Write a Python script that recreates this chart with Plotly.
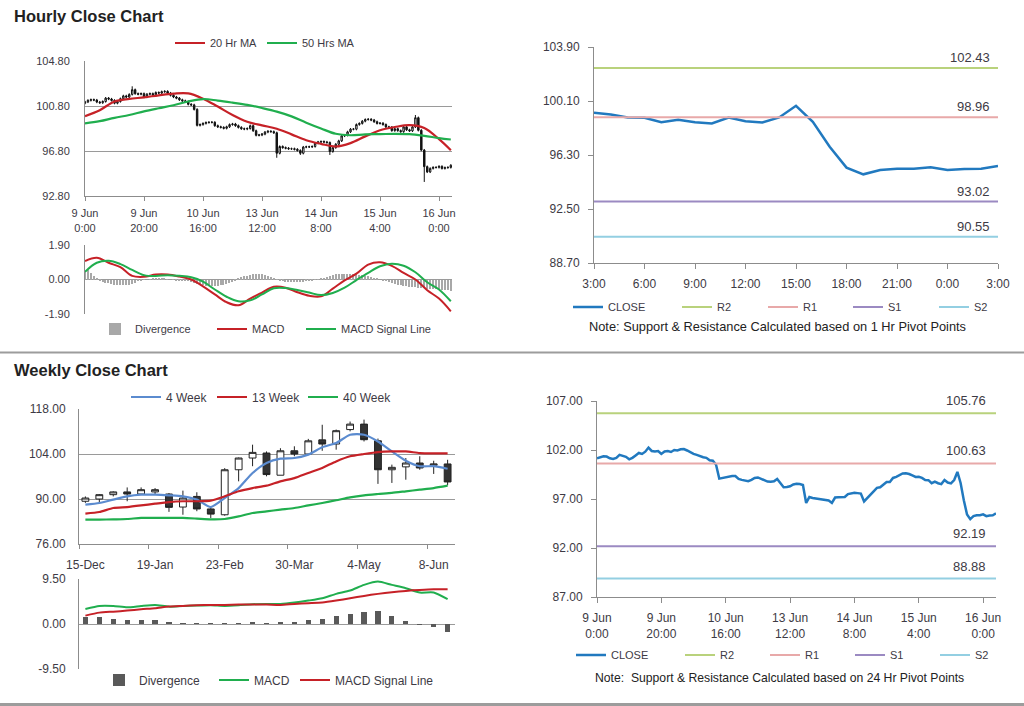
import plotly.graph_objects as go
import pandas as pd

# ---------------- DATA ----------------
# Hourly candles (125 hours, 9 Jun 0:00 -> 16 Jun ~4:00)
hourly_open = [
    101.05, 101.16, 101.30, 101.36, 101.33, 101.15, 101.09, 101.20, 101.50, 101.42,
    101.30, 101.05, 101.20, 101.45, 101.70, 101.60, 101.83, 102.25, 101.90, 101.85,
    101.90, 101.60, 101.85, 101.90, 101.80, 102.00, 101.95, 102.07, 102.10, 101.95,
    101.75, 101.60, 101.50, 101.35, 101.26, 101.20, 100.95, 100.90, 100.50, 99.08,
    99.15, 99.25, 99.33, 99.35, 99.35, 99.05, 98.95, 98.90, 98.82, 98.95,
    99.15, 99.20, 99.05, 98.90, 98.78, 98.75, 98.80, 99.05, 98.60, 98.20,
    98.22, 98.30, 98.48, 98.55, 98.52, 98.42, 96.60, 97.20, 97.10, 97.05,
    97.00, 97.00, 96.95, 96.85, 96.60, 97.15, 97.17, 97.17, 97.20, 97.50,
    97.60, 97.64, 97.60, 97.55, 96.75, 97.10, 97.40, 97.70, 98.14, 98.20,
    98.50, 98.74, 98.74, 99.15, 99.25, 99.45, 99.60, 99.62, 99.55, 99.40,
    99.25, 99.27, 99.15, 98.94, 98.92, 98.61, 98.78, 98.61, 98.52, 98.94,
    98.68, 98.59, 98.94, 99.76, 98.64, 96.88, 95.41, 94.94, 95.25, 95.34,
    95.34, 95.43, 95.25, 95.32, 95.34]
hourly_high = [
    101.26, 101.40, 101.46, 101.46, 101.43, 101.25, 101.30, 101.60, 101.60, 101.52,
    101.40, 101.30, 101.55, 101.80, 101.80, 101.93, 102.55, 102.35, 102.00, 102.00,
    102.00, 101.95, 102.00, 102.00, 102.10, 102.10, 102.17, 102.20, 102.20, 102.05,
    101.85, 101.70, 101.60, 101.45, 101.36, 101.30, 101.05, 101.00, 100.60, 99.25,
    99.35, 99.43, 99.45, 99.45, 99.45, 99.15, 99.05, 99.00, 99.05, 99.25,
    99.30, 99.30, 99.15, 99.00, 98.88, 98.90, 99.15, 99.15, 98.70, 98.32,
    98.40, 98.58, 98.65, 98.65, 98.62, 98.52, 97.30, 97.30, 97.20, 97.15,
    97.10, 97.10, 97.05, 96.95, 97.25, 97.27, 97.27, 97.30, 97.60, 97.70,
    97.74, 97.74, 97.70, 97.65, 97.20, 97.50, 97.80, 98.24, 98.30, 98.60,
    98.84, 98.84, 99.25, 99.35, 99.55, 99.70, 99.72, 99.72, 99.65, 99.50,
    99.37, 99.37, 99.25, 99.04, 99.02, 98.88, 98.88, 98.71, 99.04, 99.04,
    98.78, 99.04, 100.00, 99.86, 98.74, 96.98, 95.51, 95.35, 95.44, 95.44,
    95.53, 95.53, 95.42, 95.44, 95.63]
hourly_low = [
    100.95, 101.06, 101.20, 101.23, 101.05, 100.99, 100.99, 101.10, 101.32, 101.20,
    100.95, 100.95, 101.10, 101.35, 101.50, 101.50, 101.73, 101.80, 101.75, 101.75,
    101.50, 101.50, 101.75, 101.70, 101.70, 101.85, 101.85, 101.97, 101.85, 101.65,
    101.50, 101.40, 101.25, 101.16, 101.10, 100.85, 100.80, 100.40, 98.98, 98.98,
    99.05, 99.15, 99.23, 99.25, 98.95, 98.85, 98.80, 98.72, 98.72, 98.85,
    99.05, 98.95, 98.80, 98.68, 98.65, 98.65, 98.70, 98.50, 98.10, 98.10,
    98.12, 98.20, 98.38, 98.42, 98.32, 96.20, 96.50, 97.00, 96.95, 96.90,
    96.90, 96.85, 96.75, 96.45, 96.50, 97.05, 97.07, 97.07, 97.10, 97.40,
    97.50, 97.50, 97.45, 96.45, 96.65, 97.00, 97.30, 97.60, 98.04, 98.10,
    98.40, 98.64, 98.64, 99.05, 99.15, 99.35, 99.50, 99.45, 99.30, 99.15,
    99.15, 99.05, 98.84, 98.82, 98.51, 98.51, 98.51, 98.42, 98.42, 98.58,
    98.49, 98.49, 98.84, 98.54, 96.78, 94.05, 94.84, 94.84, 95.15, 95.24,
    95.24, 95.15, 95.15, 95.22, 95.24]
hourly_close = [
    101.16, 101.30, 101.36, 101.33, 101.15, 101.09, 101.20, 101.50, 101.42, 101.30,
    101.05, 101.20, 101.45, 101.70, 101.60, 101.83, 102.25, 101.90, 101.85, 101.90,
    101.60, 101.85, 101.90, 101.80, 102.00, 101.95, 102.07, 102.10, 101.95, 101.75,
    101.60, 101.50, 101.35, 101.26, 101.20, 100.95, 100.90, 100.50, 99.08, 99.15,
    99.25, 99.33, 99.35, 99.35, 99.05, 98.95, 98.90, 98.82, 98.95, 99.15,
    99.20, 99.05, 98.90, 98.78, 98.75, 98.80, 99.05, 98.60, 98.20, 98.22,
    98.30, 98.48, 98.55, 98.52, 98.42, 96.60, 97.20, 97.10, 97.05, 97.00,
    97.00, 96.95, 96.85, 96.60, 97.15, 97.17, 97.17, 97.20, 97.50, 97.60,
    97.64, 97.60, 97.55, 96.75, 97.10, 97.40, 97.70, 98.14, 98.20, 98.50,
    98.74, 98.74, 99.15, 99.25, 99.45, 99.60, 99.62, 99.55, 99.40, 99.25,
    99.27, 99.15, 98.94, 98.92, 98.61, 98.78, 98.61, 98.52, 98.94, 98.68,
    98.59, 98.94, 99.76, 98.64, 96.88, 95.41, 94.94, 95.25, 95.34, 95.34,
    95.43, 95.25, 95.32, 95.34, 95.53]
hourly_tick_idx = [0, 20, 40, 60, 80, 100, 120]
hourly_tick_labels = ["9 Jun<br>0:00", "9 Jun<br>20:00", "10 Jun<br>16:00", "13 Jun<br>12:00",
                      "14 Jun<br>8:00", "15 Jun<br>4:00", "16 Jun<br>0:00"]

# Moving averages (sampled every 5 hours)
ma_idx = [0, 5, 10, 15, 20, 25, 30, 35, 40, 45, 50, 55, 60, 65, 70, 75, 80, 85, 90, 95,
          100, 105, 110, 115, 120, 124]
ma20 = [99.9, 100.43, 101.2, 101.43, 101.57, 101.75, 101.9, 101.92, 101.45, 100.75, 100.0, 99.4,
        99.08, 98.78, 98.28, 97.76, 97.44, 97.2, 97.5, 98.1, 98.65, 98.93, 99.1, 98.85, 97.85, 96.87]
ma50 = [99.25, 99.45, 99.75, 100.0, 100.32, 100.6, 100.87, 101.2, 101.42, 101.28, 101.1, 100.9,
        100.62, 100.3, 99.88, 99.32, 98.8, 98.33, 98.2, 98.28, 98.3, 98.33, 98.3, 98.15, 97.95, 97.82]

# Hourly MACD (sampled every 4 hours) and divergence (hourly)
macd_idx = [0, 4, 8, 12, 16, 20, 24, 28, 32, 36, 40, 44, 48, 52, 56, 60, 64, 68, 72, 76, 80,
            84, 88, 92, 96, 100, 104, 108, 112, 116, 120, 124]
h_macd = [1.02, 1.2, 0.92, 0.68, 0.2, 0.15, 0.27, 0.27, 0.16, 0.0, -0.38, -0.82, -1.25, -1.42,
          -1.05, -0.72, -0.4, -0.45, -0.7, -0.9, -0.93, -0.5, -0.05, 0.32, 0.82, 0.95, 0.75,
          0.36, 0.0, -0.59, -1.05, -1.75]
h_signal = [0.42, 0.92, 1.03, 0.85, 0.53, 0.24, 0.19, 0.24, 0.2, 0.12, -0.12, -0.55, -0.95, -1.2,
            -1.15, -0.82, -0.48, -0.47, -0.58, -0.72, -0.86, -0.74, -0.45, -0.03, 0.37, 0.73,
            0.87, 0.76, 0.4, -0.15, -0.55, -1.2]
h_div = [
    0.45, 0.5, 0.35, 0.2, 0.1, -0.05, -0.12, -0.18, -0.22, -0.25,
    -0.28, -0.3, -0.3, -0.3, -0.3, -0.28, -0.25, -0.18, -0.1, -0.05,
    -0.02, 0.0, 0.02, 0.03, 0.04, 0.04, 0.04, 0.03, 0.02, 0.0,
    -0.02, -0.03, -0.04, -0.06, -0.08, -0.1, -0.15, -0.2, -0.25, -0.3,
    -0.33, -0.36, -0.38, -0.38, -0.37, -0.35, -0.33, -0.3, -0.25, -0.2,
    -0.12, -0.05, 0.05, 0.12, 0.18, 0.22, 0.26, 0.28, 0.3, 0.3,
    0.28, 0.25, 0.2, 0.12, 0.05, -0.02, -0.06, -0.1, -0.12, -0.14,
    -0.15, -0.15, -0.15, -0.14, -0.12, -0.1, -0.08, -0.05, -0.02, 0.02,
    0.06, 0.1, 0.15, 0.2, 0.24, 0.28, 0.3, 0.32, 0.33, 0.33,
    0.32, 0.3, 0.28, 0.26, 0.24, 0.22, 0.18, 0.14, 0.1, 0.05,
    0.0, -0.05, -0.1, -0.15, -0.2, -0.24, -0.28, -0.32, -0.35, -0.38,
    -0.4, -0.42, -0.44, -0.45, -0.46, -0.48, -0.5, -0.52, -0.53, -0.55,
    -0.56, -0.57, -0.58, -0.6, -0.62]

# 1 Hr pivot (last 25 hours of hourly close)
last24_start = 100
last24_tick_labels = ["3:00", "6:00", "9:00", "12:00", "15:00", "18:00", "21:00", "0:00", "3:00"]
hr_pivots = {"R2": 102.43, "R1": 98.96, "S1": 93.02, "S2": 90.55}
hr_yticks = [88.70, 92.50, 96.30, 100.10, 103.90]

# 24 Hr pivot
day_pivots = {"R2": 105.76, "R1": 100.63, "S1": 92.19, "S2": 88.88}
day_yticks = [87.0, 92.0, 97.0, 102.0, 107.0]

# Weekly candles (27 weeks, week starting Mondays)
w_open = [89.3, 90.0, 91.35, 92.2, 91.55, 92.2, 91.55, 87.5, 90.8, 86.9, 85.1, 99.1, 102.75, 104.3,
          97.4, 105.0, 104.0, 108.4, 107.1, 111.6, 113.3, 108.1, 99.1, 100.0, 101.2, 100.5, 100.9]
w_high = [90.8, 91.55, 92.4, 93.6, 93.6, 93.4, 91.85, 92.6, 92.1, 87.2, 99.6, 102.9, 106.9, 104.8,
          105.8, 106.4, 108.7, 113.1, 111.6, 114.1, 114.7, 108.8, 100.7, 102.75, 103.3, 101.9, 102.2]
w_low = [88.8, 88.55, 90.8, 89.3, 91.3, 91.35, 86.0, 85.1, 86.2, 84.1, 84.8, 95.5, 100.2, 97.05,
         97.4, 103.3, 103.8, 105.0, 105.35, 111.05, 107.9, 94.7, 95.0, 96.0, 99.1, 97.8, 94.25]
w_close = [90.3, 91.35, 92.2, 91.55, 92.9, 92.9, 87.4, 90.3, 86.9, 85.3, 99.1, 102.75, 104.5, 97.6,
           105.0, 104.0, 108.1, 107.1, 111.25, 113.3, 108.45, 99.1, 99.85, 101.2, 99.65, 100.9, 95.3]
ma4w = [88.24, 88.76, 89.8, 90.83, 91.35, 91.35, 91.14, 90.83, 89.8, 87.5, 90.3, 93.4, 98.1, 101.2,
        102.55, 102.75, 103.8, 106.1, 107.4, 110.0, 110.0, 107.9, 104.8, 101.9, 100.2, 100.2, 99.4]
ma13w = [85.45, 85.95, 87.2, 87.5, 88.0, 88.55, 89.05, 89.3, 89.3, 89.5, 90.83, 92.4, 93.4, 94.15,
         95.5, 96.5, 98.1, 99.65, 101.7, 103.3, 104.0, 104.6, 104.8, 104.8, 104.3, 104.2, 104.2]
ma40w = [83.57, 83.57, 83.67, 83.78, 84.1, 84.1, 84.1, 84.1, 83.9, 83.67, 83.78, 84.6, 85.65, 86.15,
         86.7, 87.2, 88.0, 88.76, 89.6, 90.5, 91.14, 91.55, 91.9, 92.4, 92.9, 93.4, 94.15]
w_macd = [3.18, 3.81, 3.81, 3.53, 3.81, 4.03, 3.67, 3.81, 3.88, 3.95, 3.81, 3.95, 4.17, 4.24,
          4.24, 4.52, 4.94, 5.44, 6.36, 7.06, 8.26, 8.97, 8.26, 7.56, 6.64, 6.64, 5.23]
w_signal = [1.77, 2.4, 2.61, 2.83, 3.11, 3.32, 3.67, 3.81, 3.95, 4.03, 4.03, 4.1, 4.1, 4.1,
            4.03, 4.24, 4.38, 4.52, 4.94, 5.44, 5.93, 6.36, 6.71, 6.99, 7.2, 7.35, 7.35]
w_div = [1.55, 1.55, 1.06, 0.78, 0.78, 0.78, 0.35, 0.14, 0.1, 0.07, 0.05, 0.1, 0.3, 0.2,
         0.3, 0.3, 0.78, 1.06, 1.77, 2.05, 2.47, 2.75, 1.77, 0.56, -0.21, -0.56, -1.77]
w_first_week = "2014-12-15"
w_tick_dates = ["2014-12-15", "2015-01-19", "2015-02-23", "2015-03-30", "2015-05-04", "2015-06-08"]
w_tick_labels = ["15-Dec", "19-Jan", "23-Feb", "30-Mar", "4-May", "8-Jun"]

# ---------------- STYLE ----------------
W, H = 1024, 706
FONT = "Liberation Sans, Arial, sans-serif"
TXT = "#3d3a44"
AX = "#8c8c8c"
RED = "#c62127"
GREEN = "#20ae4e"
BLUE4W = "#5b8bcf"
CLOSE_BLUE = "#2179bf"
LEVEL_COLORS = {"R2": "#b9d27c", "R1": "#e8a9a9", "S1": "#9b8ac2", "S2": "#93cfe2"}

# legend entry positions (left edge px, centre y px) per panel, in trace order
LEG_TL = [(170, 43), (262, 43)]
LEG_TLM = [(95, 329), (212, 329), (301, 329)]
LEG_TR = [(568, 307), (677, 307), (763, 307), (848, 307), (934, 307)]
LEG_W = [(126, 397), (212, 397), (303, 397)]
LEG_WM = [(99, 680), (214, 680), (295, 680)]
LEG_BR = [(571, 655), (680, 655), (765, 655), (850, 655), (935, 655)]


def dx(a, b):
    return [a / W, b / W]


def dy(top, bottom):
    return [1 - bottom / H, 1 - top / H]


legend_layouts = {}


def leg(pos, size=11):
    n = len(legend_layouts) + 1
    key = "legend" if n == 1 else f"legend{n}"
    legend_layouts[key] = dict(orientation="h", x=pos[0] / W, y=1 - pos[1] / H, xanchor="left",
                               yanchor="middle", bgcolor="rgba(0,0,0,0)", borderwidth=0,
                               itemwidth=30, font=dict(family=FONT, size=size, color=TXT))
    return key


hours = list(range(len(hourly_close)))
last24_close = hourly_close[last24_start:]
last24_x = list(range(len(last24_close)))
weeks = pd.date_range(w_first_week, periods=len(w_close), freq="7D")
half_week = pd.Timedelta(hours=77)
w_bounds = [(pd.Timestamp(d) - half_week).strftime("%Y-%m-%d %H:%M") for d in w_tick_dates]
w_range = [(weeks[0] - half_week).strftime("%Y-%m-%d %H:%M"),
           (weeks[-1] + pd.Timedelta(hours=89)).strftime("%Y-%m-%d %H:%M")]

fig = go.Figure()

# --- Hourly candles + MAs
fig.add_trace(go.Candlestick(
    x=hours, open=hourly_open, high=hourly_high, low=hourly_low, close=hourly_close,
    xaxis="x", yaxis="y", showlegend=False,
    increasing=dict(line=dict(color="#111111", width=1), fillcolor="white"),
    decreasing=dict(line=dict(color="#111111", width=1), fillcolor="#111111")))
fig.add_trace(go.Scatter(x=ma_idx, y=ma20, mode="lines", name="20 Hr MA", xaxis="x", yaxis="y",
                         line=dict(color=RED, width=2.2, shape="spline"), legend=leg(LEG_TL[0])))
fig.add_trace(go.Scatter(x=ma_idx, y=ma50, mode="lines", name="50 Hrs MA", xaxis="x", yaxis="y",
                         line=dict(color=GREEN, width=2.2, shape="spline"), legend=leg(LEG_TL[1])))

# --- Hourly MACD
fig.add_trace(go.Bar(x=hours, y=h_div, name="Divergence", xaxis="x2", yaxis="y2",
                     marker=dict(color="#a8a8a8", line=dict(width=0)), width=0.45,
                     legend=leg(LEG_TLM[0])))
fig.add_trace(go.Scatter(x=macd_idx, y=h_macd, mode="lines", name="MACD", xaxis="x2", yaxis="y2",
                         line=dict(color=RED, width=2, shape="spline"), legend=leg(LEG_TLM[1])))
fig.add_trace(go.Scatter(x=macd_idx, y=h_signal, mode="lines", name="MACD Signal Line", xaxis="x2",
                         yaxis="y2", line=dict(color=GREEN, width=2, shape="spline"),
                         legend=leg(LEG_TLM[2])))

# --- 1 Hr pivots
fig.add_trace(go.Scatter(x=last24_x, y=last24_close, mode="lines", name="CLOSE", xaxis="x3", yaxis="y3",
                         line=dict(color=CLOSE_BLUE, width=2.5), legend=leg(LEG_TR[0])))
for i, (k, v) in enumerate(hr_pivots.items()):
    fig.add_trace(go.Scatter(x=last24_x, y=[v] * len(last24_x), mode="lines", name=k, xaxis="x3",
                             yaxis="y3", line=dict(color=LEVEL_COLORS[k], width=2),
                             legend=leg(LEG_TR[i + 1])))

# --- Weekly candles + MAs
fig.add_trace(go.Candlestick(
    x=weeks, open=w_open, high=w_high, low=w_low, close=w_close,
    xaxis="x4", yaxis="y4", showlegend=False,
    increasing=dict(line=dict(color="#222222", width=1), fillcolor="white"),
    decreasing=dict(line=dict(color="#222222", width=1), fillcolor="#333333")))
for i, (nm, vals, col) in enumerate([("4 Week", ma4w, BLUE4W), ("13 Week", ma13w, RED),
                                      ("40 Week", ma40w, GREEN)]):
    fig.add_trace(go.Scatter(x=weeks, y=vals, mode="lines", name=nm, xaxis="x4", yaxis="y4",
                             line=dict(color=col, width=2.2, shape="spline", smoothing=0.6),
                             legend=leg(LEG_W[i], 12)))

# --- Weekly MACD
fig.add_trace(go.Bar(x=weeks, y=w_div, name="Divergence", xaxis="x5", yaxis="y5",
                     marker=dict(color="#595959", line=dict(width=0)), width=2.6 * 86400000,
                     legend=leg(LEG_WM[0], 12)))
fig.add_trace(go.Scatter(x=weeks, y=w_macd, mode="lines", name="MACD", xaxis="x5", yaxis="y5",
                         line=dict(color=GREEN, width=2, shape="spline", smoothing=0.6),
                         legend=leg(LEG_WM[1], 12)))
fig.add_trace(go.Scatter(x=weeks, y=w_signal, mode="lines", name="MACD Signal Line", xaxis="x5",
                         yaxis="y5", line=dict(color=RED, width=2, shape="spline", smoothing=0.6),
                         legend=leg(LEG_WM[2], 12)))

# --- 24 Hr pivots
fig.add_trace(go.Scatter(x=hours, y=hourly_close, mode="lines", name="CLOSE", xaxis="x6", yaxis="y6",
                         line=dict(color=CLOSE_BLUE, width=2.5), legend=leg(LEG_BR[0])))
for i, (k, v) in enumerate(day_pivots.items()):
    fig.add_trace(go.Scatter(x=hours, y=[v] * len(hours), mode="lines", name=k, xaxis="x6",
                             yaxis="y6", line=dict(color=LEVEL_COLORS[k], width=2),
                             legend=leg(LEG_BR[i + 1])))


def fmt(vals):
    return [f"{v:.2f}" for v in vals]


tick_font_s = dict(family=FONT, size=11, color=TXT)
tick_font_m = dict(family=FONT, size=12, color=TXT)

base_x = dict(showgrid=False, zeroline=False, showline=True, linecolor=AX, linewidth=1,
              ticks="outside", ticklen=4, tickcolor=AX, fixedrange=True, automargin=False)
base_y = dict(showgrid=False, zeroline=False, showline=True, linecolor=AX, linewidth=1,
              fixedrange=True, automargin=False)

h_yt = [92.8, 96.8, 100.8, 104.8]
m_yt = [-1.9, 0.0, 1.9]
w_yt = [76.0, 90.0, 104.0, 118.0]
wm_yt = [-9.5, 0.0, 9.5]

layout_axes = dict(
    xaxis=dict(base_x, domain=dx(85, 452), range=[0, 124.4], anchor="y",
               tickvals=hourly_tick_idx, ticktext=hourly_tick_labels, tickfont=tick_font_s,
               ticklabelstandoff=3, rangeslider=dict(visible=False)),
    yaxis=dict(base_y, domain=dy(61, 196), range=[92.8, 104.8], anchor="x",
               tickvals=h_yt, ticktext=fmt(h_yt), tickfont=tick_font_s, showgrid=True,
               gridcolor="#9a9a9a", ticks="", ticklabelstandoff=12),
    xaxis2=dict(base_x, domain=dx(85, 452), range=[0, 124.4], anchor="y2", showticklabels=False,
                ticks="", showline=False),
    yaxis2=dict(base_y, domain=dy(245, 314), range=[-1.9, 1.9], anchor="x2",
                tickvals=m_yt, ticktext=fmt(m_yt), tickfont=tick_font_s, showgrid=True,
                gridcolor="#9a9a9a", ticks="", ticklabelstandoff=12),
    xaxis3=dict(base_x, domain=dx(594, 998), range=[0, 24], anchor="y3",
                tickvals=list(range(0, 25, 3)), ticktext=last24_tick_labels, tickfont=tick_font_m,
                ticklen=5, ticklabelstandoff=5),
    yaxis3=dict(base_y, domain=dy(47, 263), range=[88.7, 103.9], anchor="x3",
                tickvals=hr_yticks, ticktext=fmt(hr_yticks), tickfont=tick_font_m,
                ticks="outside", ticklen=5, tickcolor=AX, ticklabelstandoff=6),
    xaxis4=dict(base_x, type="date", domain=dx(79, 455), range=w_range, anchor="y4",
                tickvals=w_tick_dates, ticktext=w_tick_labels, tickfont=tick_font_m,
                ticks="", ticklabelstandoff=10, rangeslider=dict(visible=False),
                minor=dict(tickvals=w_bounds, ticks="outside", ticklen=4, tickcolor=AX,
                           showgrid=False)),
    yaxis4=dict(base_y, domain=dy(409, 544), range=[76, 118], anchor="x4",
                tickvals=w_yt, ticktext=fmt(w_yt), tickfont=tick_font_m, showgrid=True,
                gridcolor="#9a9a9a", ticks="", ticklabelstandoff=10),
    xaxis5=dict(base_x, type="date", domain=dx(79, 455), range=w_range, anchor="y5",
                showticklabels=False, ticks="", showline=False),
    yaxis5=dict(base_y, domain=dy(579, 669), range=[-9.5, 9.5], anchor="x5",
                tickvals=wm_yt, ticktext=fmt(wm_yt), tickfont=tick_font_m, showgrid=True,
                gridcolor="#9a9a9a", ticks="", ticklabelstandoff=10),
    xaxis6=dict(base_x, domain=dx(597, 996), range=[0, 124], anchor="y6",
                tickvals=hourly_tick_idx, ticktext=hourly_tick_labels, tickfont=tick_font_m,
                ticklen=5, ticklabelstandoff=5),
    yaxis6=dict(base_y, domain=dy(401, 597), range=[87, 107], anchor="x6",
                tickvals=day_yticks, ticktext=fmt(day_yticks), tickfont=tick_font_m,
                ticks="outside", ticklen=5, tickcolor=AX, ticklabelstandoff=6),
)

annotations = [
    dict(text="<b>Hourly Close Chart</b>", x=12 / W, y=1 - 16 / H, xref="paper", yref="paper",
         xanchor="left", yanchor="middle", showarrow=False, font=dict(family=FONT, size=16.5, color="#222")),
    dict(text="<b>Weekly Close Chart</b>", x=12 / W, y=1 - 370 / H, xref="paper", yref="paper",
         xanchor="left", yanchor="middle", showarrow=False, font=dict(family=FONT, size=16.5, color="#222")),
    dict(text="Note: Support & Resistance Calculated based on 1 Hr Pivot Points", x=777 / W,
         y=1 - 326 / H, xref="paper", yref="paper", xanchor="center", yanchor="middle",
         showarrow=False, font=dict(family=FONT, size=12.8, color="#222")),
    dict(text="Note:\u00a0 Support & Resistance Calculated based on 24 Hr Pivot Points", x=779 / W,
         y=1 - 678 / H, xref="paper", yref="paper", xanchor="center", yanchor="middle",
         showarrow=False, font=dict(family=FONT, size=12.2, color="#222")),
]
for v in hr_pivots.values():
    annotations.append(dict(text=f"{v:.2f}", x=0.985, y=v, xref="x3 domain", yref="y3",
                            xanchor="right", yanchor="bottom", yshift=1, showarrow=False,
                            font=dict(family=FONT, size=13, color=TXT)))
for v in day_pivots.values():
    annotations.append(dict(text=f"{v:.2f}", x=0.98, y=v, xref="x6 domain", yref="y6",
                            xanchor="right", yanchor="bottom", yshift=3, showarrow=False,
                            font=dict(family=FONT, size=13, color=TXT)))

shapes = [
    dict(type="line", xref="paper", yref="paper", x0=0, x1=1, y0=1 - 352.5 / H, y1=1 - 352.5 / H,
         line=dict(color="#9c9c9c", width=2)),
    dict(type="line", xref="paper", yref="paper", x0=0, x1=1, y0=1 - 704.5 / H, y1=1 - 704.5 / H,
         line=dict(color="#9c9c9c", width=3)),
]

fig.update_layout(
    width=W, height=H, autosize=False,
    margin=dict(l=0, r=0, t=0, b=0, pad=0, autoexpand=False),
    paper_bgcolor="white", plot_bgcolor="white",
    font=dict(family=FONT, size=11, color=TXT),
    bargap=0, barmode="overlay",
    annotations=annotations, shapes=shapes,
    hovermode=False,
    **legend_layouts,
    **layout_axes,
)

fig.write_html("out.html", config={"displayModeBar": False},
               post_script="document.body.style.margin='0';document.body.style.padding='0';"
                           "document.documentElement.style.overflow='hidden';")
